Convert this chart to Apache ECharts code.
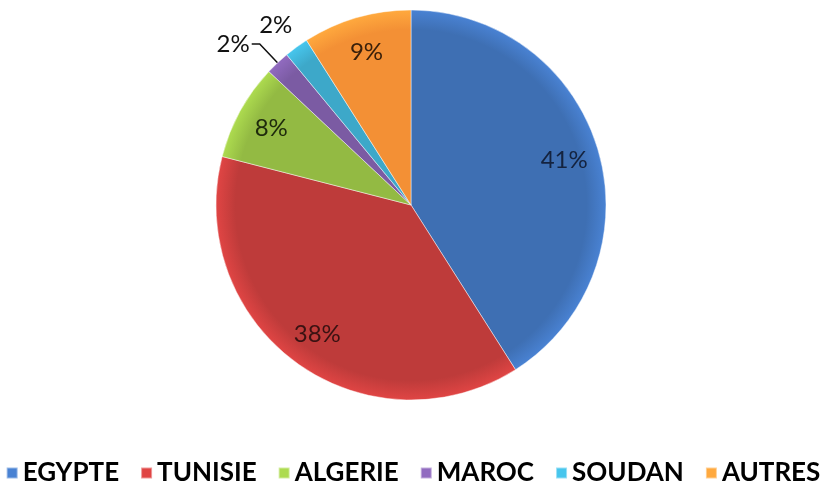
<!DOCTYPE html>
<html><head><meta charset="utf-8">
<script src="https://cdn.jsdelivr.net/npm/echarts@6/dist/echarts.min.js"></script>
<style>html,body{margin:0;padding:0;background:#fff}#c{width:826px;height:497px}</style>
</head><body><div id="c"></div>
<script>
const categories = ['EGYPTE','TUNISIE','ALGERIE','MAROC','SOUDAN','AUTRES'];
const values = [41, 38, 8, 2, 2, 9];
const colors = ['#3E6FB3','#BE3B3A','#93BA43','#7B5BA3','#3DA8C9','#F39035'];
const labelColors = ['#14233f','#3a1212','#1e2a0c','#111111','#111111','#3a200a'];

const chart = echarts.init(document.getElementById('c'));
const center = [411, 205];
const R = 195;

const pieData = categories.map((n,i)=>({
  name:n, value:values[i],
  itemStyle:{
    color: new echarts.graphic.RadialGradient(center[0],center[1],R,[
      {offset:0,color:colors[i]},{offset:0.9,color:colors[i]},{offset:1,color:echarts.color.lift(colors[i],-0.18)}
    ], true)
  }
}));

const labelData = categories.map((n,i)=>{
  const small = values[i] <= 2;
  const d = {name:n, value:values[i], itemStyle:{color:'rgba(0,0,0,0)'}};
  if (small) {
    const isMaroc = n === 'MAROC';
    d.label = {position:'outside', color:'#111', distanceToLabelLine:2};
    d.labelLine = isMaroc
      ? {show:true, length:26, length2:8, lineStyle:{color:'#111', width:1.5}}
      : {show:false, length:12, length2:0};
  } else {
    d.label = {position:'inside', color:labelColors[i]};
    d.labelLine = {show:false};
  }
  return d;
});

chart.setOption({
  animation:false,
  color: colors,
  legend:{
    data: categories,
    bottom: 6,
    left: 'center',
    icon:'rect',
    itemWidth:11, itemHeight:11,
    itemGap:21,
    textStyle:{fontFamily:'Lato', fontWeight:'bold', fontSize:26, color:'#000'}
  },
  series:[
    {
      type:'pie', center:center, radius:[0,R], clockwise:true, startAngle:90,
      silent:true, label:{show:false}, labelLine:{show:false},
      itemStyle:{borderColor:'rgba(255,255,255,0.45)', borderWidth:1},
      data: pieData
    },
    {
      type:'pie', center:center, radius:[118,R], clockwise:true, startAngle:90,
      silent:true, avoidLabelOverlap:false,
      label:{show:true, formatter:'{c}%', fontFamily:'Lato', fontSize:24},
      labelLayout: function(p){
        if (p.dataIndex === 4) return {dx:5, dy:-12};
        return {};
      },
      data: labelData
    }
  ]
});
</script></body></html>
